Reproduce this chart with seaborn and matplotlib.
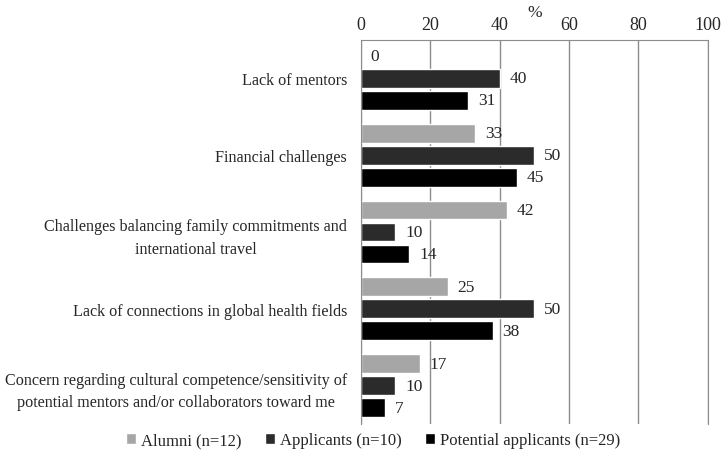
import matplotlib.pyplot as plt
import seaborn as sns
import pandas as pd

categories = [
    "Lack of mentors",
    "Financial challenges",
    "Challenges balancing family commitments and\ninternational travel",
    "Lack of connections in global health fields",
    "Concern regarding cultural competence/sensitivity of\npotential mentors and/or collaborators toward me",
]
groups = ["Alumni (n=12)", "Applicants (n=10)", "Potential applicants (n=29)"]
alumni = [0, 33, 42, 25, 17]
applicants = [40, 50, 10, 50, 10]
potential = [31, 45, 14, 38, 7]
colors = ["#a6a6a6", "#2b2b2b", "#000000"]

if __name__ == "__main__":
    sns.set_style("white")
    plt.rcParams["font.family"] = ["Liberation Serif", "DejaVu Serif"]

    rows = []
    for g, vals in zip(groups, [alumni, applicants, potential]):
        for c, v in zip(categories, vals):
            rows.append({"Barrier": c, "Group": g, "Pct": v})
    df = pd.DataFrame(rows)

    fig = plt.figure(figsize=(7.23, 4.56), dpi=100)
    ax = fig.add_axes([0.499, 0.068, 0.48, 0.842])
    sns.barplot(data=df, y="Barrier", x="Pct", hue="Group", order=categories,
                hue_order=groups, palette=colors, orient="h", width=0.86,
                gap=0.15, saturation=1, errorbar=None, ax=ax)

    for cont in ax.containers:
        ax.bar_label(cont, fmt="%d", padding=7, fontsize=12.5)

    ax.set_xlim(0, 100)
    ax.set_xticks([0, 20, 40, 60, 80, 100])
    ax.xaxis.tick_top()
    ax.xaxis.set_label_position("top")
    ax.set_xlabel("%", fontsize=12.5, labelpad=0)
    ax.set_ylabel("")
    ax.tick_params(axis="x", labelsize=13, length=0, pad=5)
    ax.tick_params(axis="y", labelsize=11.6, length=0, pad=10)
    for t in ax.get_yticklabels():
        t.set_multialignment("center")
        t.set_linespacing(1.55)
    ax.grid(axis="x", color="#8c8c8c", linewidth=1)
    ax.set_axisbelow(True)
    for s in ["left", "top", "right"]:
        ax.spines[s].set_color("#8c8c8c")
    ax.spines["bottom"].set_visible(False)

    ax.legend(loc="center", bbox_to_anchor=(0.035, -0.042), ncol=3,
              frameon=False, fontsize=12, handlelength=0.6, handleheight=0.6,
              handletextpad=0.3, columnspacing=1.4)

    plt.savefig("out.png", dpi=100)
